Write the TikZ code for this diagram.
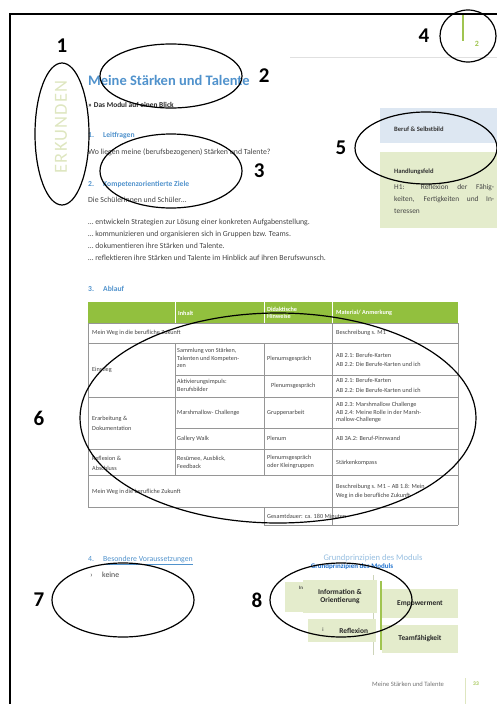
\documentclass[tikz,border=0pt]{standalone}
\usepackage{fontspec}
\setmainfont{Carlito}
\newfontfamily\spinefont[LetterSpace=6]{Carlito}
\usetikzlibrary{shapes.geometric, positioning}
\definecolor{TitleBlue}{RGB}{80,146,204}
\definecolor{LinkBlue}{RGB}{30,112,205}
\definecolor{HeadGreen}{RGB}{146,192,62}
\definecolor{PaleGreen}{RGB}{228,236,204}
\definecolor{PaleBlue}{RGB}{221,231,242}
\definecolor{SpineGreen}{RGB}{222,230,192}
\definecolor{LineGreen}{RGB}{160,196,80}
\definecolor{PaleLine}{RGB}{205,212,185}
\definecolor{RuleGray}{RGB}{150,150,150}
\definecolor{BodyGray}{RGB}{68,68,68}

\begin{document}
\begin{tikzpicture}[x=1pt, y=-1pt,
        ring/.style={draw, ellipse, line width=1.2pt, inner sep=0pt},
        tag/.style={font=\fontsize{21}{21}\selectfont\bfseries, inner sep=1pt},
        body/.style={anchor=base west, inner sep=0pt, text=BodyGray, font=\fontsize{7.8}{9}\selectfont},
        head/.style={anchor=base west, inner sep=0pt, text=TitleBlue, font=\fontsize{7.6}{9}\selectfont\bfseries},
        cell/.style={anchor=west, inner sep=0pt, align=left, text=BodyGray, font=\fontsize{6.2}{7.8}\selectfont},
        hcell/.style={cell, text=white, font=\fontsize{6.2}{7}\selectfont\bfseries},
        rule/.style={draw=RuleGray, line width=0.5pt},
        pbox/.style={fill=PaleGreen, inner sep=0pt, align=center, text=black!85, font=\fontsize{7.4}{8.8}\selectfont\bfseries}
    ]
    \useasboundingbox (0,0) rectangle (497,704);

    % Seitenrahmen
    \draw[line width=1.4pt] (497,14) -- (10,14) -- (10,704);
    \draw[black!12] (290,57) -- (497,57);

    % Kopfzeile mit Seitenzahl
    \draw[LineGreen, line width=1.1pt] (463,15) -- (463,41);
    \node[text=LineGreen, font=\fontsize{8}{8}\selectfont\bfseries] (pgnum) at (477,44) {2};

    % Seitenleiste
    \node[rotate=90, text=SpineGreen, font=\spinefont\fontsize{18.5}{18.5}\selectfont] (spine) at (61,127) {ERKUNDEN};

    % Titel und Abschnitte
    \node[anchor=base west, inner sep=0pt, text=TitleBlue, font=\fontsize{14.5}{15}\selectfont\bfseries] (title) at (88,85) {Meine Stärken und Talente};
    \node[body, text=black!85, font=\fontsize{7.4}{8}\selectfont\bfseries] (overview) at (88,107) {» Das Modul auf einen Blick};
    \node[head] (sec1) at (88,137) {\makebox[15pt][l]{1.}Leitfragen};
    \node[body] (quest) at (88,154) {Wo liegen meine (berufsbezogenen) Stärken und Talente?};
    \node[head] (sec2) at (88,186) {\makebox[15pt][l]{2.}Kompetenzorientierte Ziele};
    \node[body] (pupils) at (88,202) {Die Schülerinnen und Schüler…};
    \node[body] (goal1) at (88,224) {… entwickeln Strategien zur Lösung einer konkreten Aufgabenstellung.};
    \node[body] (goal2) at (88,236) {… kommunizieren und organisieren sich in Gruppen bzw. Teams.};
    \node[body] (goal3) at (88,248) {… dokumentieren ihre Stärken und Talente.};
    \node[body] (goal4) at (88,260) {… reflektieren ihre Stärken und Talente im Hinblick auf ihren Berufswunsch.};
    \node[head] (sec3) at (88,291) {\makebox[15pt][l]{3.}Ablauf};

    % Randspalte
    \fill[PaleBlue] (380,108) rectangle (497,143);
    \node[body, text=black!80, font=\fontsize{6.6}{7}\selectfont\bfseries] (field) at (394,131) {Beruf \& Selbstbild};
    \fill[PaleGreen] (380,152) rectangle (497,228);
    \node[body, text=black!80, font=\fontsize{6.6}{7}\selectfont\bfseries] (hfeld) at (394,173) {Handlungsfeld};
    \node[body, font=\fontsize{7.4}{8}\selectfont] (hf1) at (394,189) {\makebox[100pt][s]{H1: Reflexion der Fähig-}};
    \node[body, font=\fontsize{7.4}{8}\selectfont] (hf2) at (394,201) {\makebox[100pt][s]{keiten, Fertigkeiten und In-}};
    \node[body, font=\fontsize{7.4}{8}\selectfont] (hf3) at (394,213) {teressen};

    % Ablauf-Tabelle
    \fill[HeadGreen] (88,302) rectangle (458,323);
    \foreach \xv in {175,264,332}
        \draw[white, line width=0.6pt] (\xv,302) -- (\xv,323);
    \foreach \ya/\xl/\xr in {323/88/458, 343/88/458, 375/175/458, 397/88/458, 428/175/458,
        449/88/458, 475/88/458, 507/88/458, 525/264/458}
        \draw[rule] (\xl,\ya) -- (\xr,\ya);
    \foreach \xv/\yt/\yb in {88/323/507, 175/343/475, 264/343/475, 264/507/525, 332/323/525, 458/323/525}
        \draw[rule] (\xv,\yt) -- (\xv,\yb);

    \node[hcell] (hinhalt) at (178,313) {Inhalt};
    \node[hcell] (hdidak) at (267,312.5) {Didaktische\\Hinweise};
    \node[hcell] (hmat) at (336,313) {Material/ Anmerkung};

    \node[cell] (weg1) at (92,333) {Mein Weg in die berufliche Zukunft};
    \node[cell] (besch1) at (336,333) {Beschreibung s. M1};

    \node[cell] (einstieg) at (92,370) {Einstieg};
    \node[cell] (samml) at (177,358) {Sammlung von Stärken,\\Talenten und Kompeten-\\zen};
    \node[cell] (plen1) at (267,359) {Plenumsgespräch};
    \node[cell] (ab1) at (336,360) {AB 2.1: Berufe-Karten\\[1.5pt]AB 2.2: Die Berufe-Karten und ich};
    \node[cell] (aktiv) at (177,385.5) {Aktivierungsimpuls:\\Berufsbilder};
    \node[cell] (plen2) at (271,386) {Plenumsgespräch};
    \node[cell] (ab2) at (336,385.5) {AB 2.1: Berufe-Karten\\[1.5pt]AB 2.2: Die Berufe-Karten und ich};

    \node[cell] (erarb) at (92,423) {Erarbeitung \&\\[2pt]Dokumentation};
    \node[cell] (marsh) at (177,412.5) {Marshmallow- Challenge};
    \node[cell] (grupp) at (267,412.5) {Gruppenarbeit};
    \node[cell] (ab3) at (336,412.5) {AB 2.3: Marshmallow Challenge\\AB 2.4: Meine Rolle in der Marsh-\\mallow-Challenge};
    \node[cell] (gallery) at (177,438.5) {Gallery Walk};
    \node[cell] (plenum) at (267,438.5) {Plenum};
    \node[cell] (ab4) at (336,438.5) {AB 3A.2: Beruf-Pinnwand};

    \node[cell] (refl) at (92,463) {Reflexion \&\\[2pt]Abschluss};
    \node[cell] (resum) at (177,462) {Resümee, Ausblick,\\Feedback};
    \node[cell] (plen3) at (267,462) {Plenumsgespräch\\oder Kleingruppen};
    \node[cell] (kompass) at (336,463) {Stärkenkompass};

    \node[cell] (weg2) at (92,492) {Mein Weg in die berufliche Zukunft};
    \node[cell] (besch2) at (336,491) {Beschreibung s. M1 – AB 1.8: Mein\\[1pt]Weg in die berufliche Zukunft};
    \node[cell] (dauer) at (267,516) {Gesamtdauer: ca. 180 Minuten};

    % Voraussetzungen
    \node[head, font=\fontsize{7.8}{9}\selectfont] (sec4) at (88,561) {\makebox[15pt][l]{4.}\underline{Besondere Voraussetzungen}};
    \node[body] (bullet) at (90,577) {›};
    \node[body] (none) at (102,577) {keine};

    % Grundprinzipien
    \node[text=TitleBlue!60, font=\fontsize{8.6}{9}\selectfont] (gp1) at (373,558) {Grundprinzipien des Moduls};
    \node[text=LinkBlue, font=\fontsize{7}{8}\selectfont\bfseries] (gp2) at (352,567) {Grundprinzipien des Moduls};
    \fill[PaleGreen] (285,582) rectangle (330,612);
    \node[text=black!70, font=\fontsize{5}{5}\selectfont\bfseries] (frag1) at (301,588) {In};
    \draw[PaleLine, line width=1pt] (373,575) -- (373,655);
    \node[pbox, minimum width=74pt, minimum height=33pt] (info) at (340,596.5) {Information \&\\Orientierung};
    \node[pbox, minimum width=68pt, minimum height=23pt] (reflexion) at (342,630.5) {\makebox[68pt][r]{Reflexion\hspace{8pt}}};
    \node[text=black!70, font=\fontsize{5}{5}\selectfont\bfseries] (frag2) at (323,630) {i};
    \draw[LineGreen, line width=1.2pt] (381,581) -- (381,650);
    \node[pbox, minimum width=76pt, minimum height=29pt] (emp) at (420,603.5) {Empowerment};
    \node[pbox, minimum width=76pt, minimum height=28pt] (team) at (420,639) {Teamfähigkeit};

    % Fusszeile
    \node[body, text=black!55, font=\fontsize{6.6}{7}\selectfont] (foot) at (372,686) {Meine Stärken und Talente};
    \draw[SpineGreen, line width=0.9pt] (465,678) -- (465,704);
    \node[text=LineGreen, font=\fontsize{5.5}{6}\selectfont\bfseries] (pgnum2) at (476,684) {33};

    % Markierungen
    \node[ring, minimum width=54pt, minimum height=142pt] (e1) at (62,134) {};
    \node[ring, minimum width=142pt, minimum height=64pt] (e2) at (171,76) {};
    \node[ring, minimum width=142pt, minimum height=74pt] (e3) at (171,171) {};
    \node[ring, minimum width=56pt, minimum height=52pt] (e4) at (468,36) {};
    \node[ring, minimum width=142pt, minimum height=72pt] (e5) at (426,148) {};
    \node[ring, minimum width=396pt, minimum height=210pt] (e6) at (278,418) {};
    \node[ring, minimum width=142pt, minimum height=74pt] (e7) at (123,600) {};
    \node[ring, minimum width=142pt, minimum height=74pt] (e8) at (341,600) {};

    \node[tag, above=9pt of e1] (n1) {1};
    \node[tag, right=15pt of e2] (n2) {2};
    \node[tag, right=10pt of e3] (n3) {3};
    \node[tag, left=9pt of e4] (n4) {4};
    \node[tag, left=7pt of e5] (n5) {5};
    \node[tag, left=34pt of e6] (n6) {6};
    \node[tag, left=6pt of e7] (n7) {7};
    \node[tag, left=6pt of e8] (n8) {8};

\end{tikzpicture}
\end{document}
